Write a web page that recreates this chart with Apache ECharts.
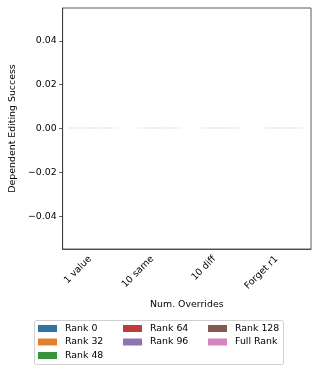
<!DOCTYPE html>
<html><head><meta charset="utf-8">
<script src="https://cdn.jsdelivr.net/npm/echarts@6/dist/echarts.min.js"></script>
<style>html,body{margin:0;padding:0;background:#fff}#c{width:319px;height:373px}</style>
</head><body><div id="c"></div>
<script>
const categories = ['1 value', '10 same', '10 diff', 'Forget r1'];
const seriesNames = ['Rank 0', 'Rank 32', 'Rank 48', 'Rank 64', 'Rank 96', 'Rank 128', 'Full Rank'];
const rank0 = [0, null, null, null];
const rank32 = [0, 0, 0, 0];
const rank48 = [0, 0, 0, 0];
const rank64 = [0, 0, 0, 0];
const rank96 = [0, 0, 0, 0];
const rank128 = [0, 0, 0, 0];
const fullRank = [0, 0, 0, 0];
const yTicks = [-0.04, -0.02, 0.00, 0.02, 0.04];
const colors = ['#3274a1', '#e1812c', '#3a923a', '#c03d3e', '#9372b2', '#845b53', '#d684bd'];
const values = [rank0, rank32, rank48, rank64, rank96, rank128, fullRank];

const font = 'DejaVu Sans';
const fs = 9.4;
const chart = echarts.init(document.getElementById('c'), null, {renderer: 'canvas'});
const legendCommon = {
  orient: 'vertical', icon: 'rect', itemWidth: 19, itemHeight: 7, itemGap: 4.5,
  textStyle: {fontFamily: font, fontSize: fs, color: '#000', padding: [0, 0, 0, 3]}, selectedMode: false, padding: 0
};
chart.setOption({
  animation: false,
  color: colors,
  grid: {left: 59, right: 8, top: 8, bottom: 124, show: true, borderColor: '#333', borderWidth: 0.8, backgroundColor: 'transparent'},
  xAxis: {
    type: 'category', data: categories,
    axisLine: {onZero: false, lineStyle: {color: '#333', width: 0.8}},
    axisTick: {alignWithLabel: true, length: 3.5, lineStyle: {color: '#333', width: 0.8}},
    axisLabel: {rotate: 45, margin: 5, padding: [0, 5, 0, 0], fontFamily: font, fontSize: fs, color: '#000', interval: 0},
    name: 'Num. Overrides', nameLocation: 'middle', nameGap: 51,
    nameTextStyle: {fontFamily: font, fontSize: fs, color: '#000'}
  },
  yAxis: {
    type: 'value', min: -0.055, max: 0.055,
    splitLine: {show: false},
    axisLine: {show: true, lineStyle: {color: '#333', width: 0.8}},
    axisTick: {show: true, length: 3.5, customValues: yTicks, lineStyle: {color: '#333', width: 0.8}},
    axisLabel: {customValues: yTicks, margin: 6, fontFamily: font, fontSize: fs, color: '#000',
      formatter: v => (v < 0 ? '\u2212' : '') + Math.abs(v).toFixed(2)},
    name: 'Dependent Editing Success', nameLocation: 'middle', nameGap: 42,
    nameTextStyle: {fontFamily: font, fontSize: fs, color: '#000'}
  },
  legend: [
    Object.assign({left: 38, top: 324, data: seriesNames.slice(0, 3)}, legendCommon),
    Object.assign({left: 123, top: 324, data: seriesNames.slice(3, 5)}, legendCommon),
    Object.assign({left: 208, top: 324, data: seriesNames.slice(5, 7)}, legendCommon)
  ],
  graphic: [{type: 'rect', shape: {x: 34.5, y: 320.5, width: 249, height: 44, r: 2},
    style: {fill: 'none', stroke: '#d0d0d0', lineWidth: 1}, z: -1}],
  series: seriesNames.map((n, i) => ({
    name: n, type: 'bar', barGap: '0%', barCategoryGap: '20%', barMinHeight: 1,
    itemStyle: {color: colors[i]},
    data: values[i].map(v => v === null ? null : {value: v, itemStyle: {opacity: 0.2}})
  }))
});
</script></body></html>
